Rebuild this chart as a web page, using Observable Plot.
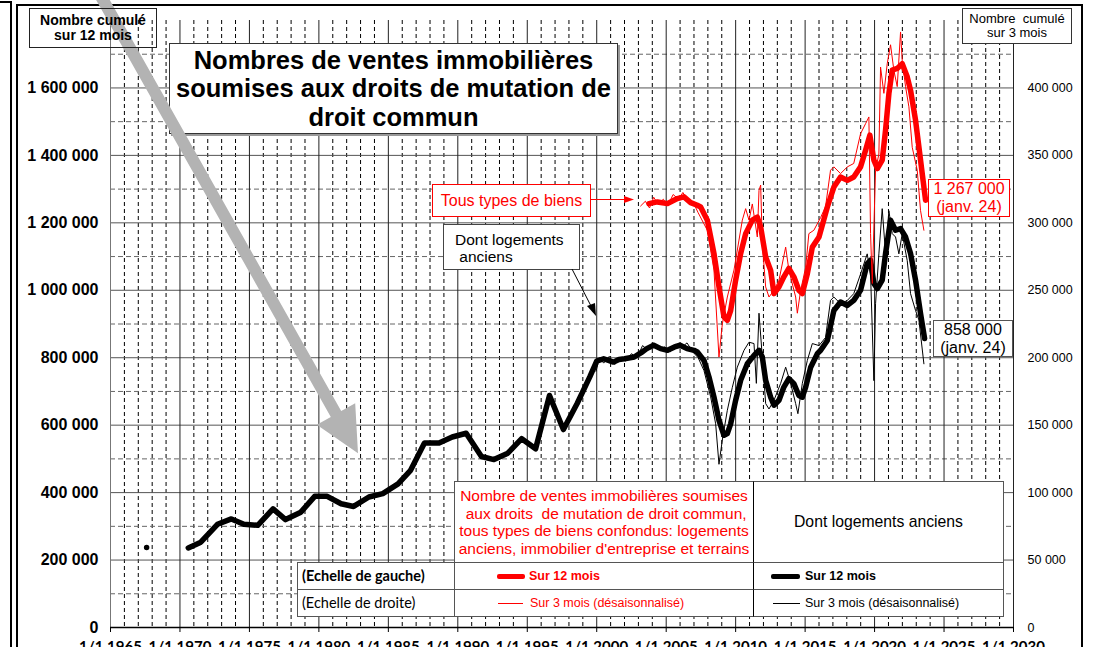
<!DOCTYPE html>
<html><head><meta charset="utf-8">
<script src="https://cdn.jsdelivr.net/npm/d3@7"></script>
<script src="https://cdn.jsdelivr.net/npm/@observablehq/plot@0.6"></script>
<style>
body{margin:0;background:#fff;}
#wrap{position:relative;width:1104px;height:647px;overflow:hidden;background:#fff;font-family:"Liberation Sans",Arial,sans-serif;}
#wrap svg.ov{position:absolute;left:0;top:0;pointer-events:none;}
.abs{position:absolute;box-sizing:border-box;}
.box{position:absolute;box-sizing:border-box;background:#fff;border:1px solid #333;}
.cell{position:absolute;box-sizing:border-box;background:#fff;border:1px solid #555;}
.center{display:flex;align-items:center;justify-content:center;text-align:center;}
.swatch{position:absolute;}
.ltxt{position:absolute;font-size:12.5px;white-space:nowrap;line-height:14px;}
</style></head><body><div id="wrap"></div>
<script>
// ---------- data ----------
// Dont logements anciens, nombre cumulé sur 12 mois (échelle de gauche)
const ancien12Years = [1967.6, 1969.0, 1970.6, 1971.5, 1972.7, 1973.7, 1974.6, 1975.6, 1976.7, 1977.6, 1978.7, 1979.7, 1980.6, 1981.6, 1982.5, 1983.6, 1984.6, 1985.7, 1986.6, 1987.6, 1988.65, 1989.6, 1990.6, 1991.7, 1992.6, 1993.6, 1994.6, 1995.6, 1996.6, 1997.6, 1998.6, 1999.5, 2000.0, 2000.5, 2001.2, 2001.6, 2002.0, 2002.7, 2003.2, 2003.6, 2004.1, 2004.6, 2005.1, 2005.6, 2006.0, 2006.5, 2007.0, 2007.24, 2007.72, 2008.08, 2008.44, 2008.8, 2009.16, 2009.4, 2009.64, 2010.0, 2010.36, 2010.84, 2011.32, 2011.68, 2011.92, 2012.16, 2012.52, 2012.76, 2013.12, 2013.47, 2013.83, 2014.19, 2014.55, 2014.8, 2015.04, 2015.4, 2015.88, 2016.12, 2016.6, 2017.07, 2017.55, 2018.04, 2018.5, 2018.99, 2019.47, 2019.71, 2019.95, 2020.2, 2020.55, 2020.79, 2021.15, 2021.51, 2021.87, 2022.23, 2022.59, 2022.95, 2023.31, 2023.6];
const ancien12Values = [237000, null, 236000, 253000, 306000, 322000, 306000, 303000, 352000, 320000, 342000, 389000, 389000, 367000, 359000, 387000, 397000, 426000, 466000, 547000, 547000, 565000, 576000, 507000, 498000, 517000, 560000, 530000, 688000, 587000, 665000, 743000, 790000, 797000, 787000, 795000, 797000, 802000, 815000, 827000, 837000, 827000, 822000, 832000, 837000, 827000, 822000, 817000, 792000, 743000, 683000, 614000, 570000, 575000, 604000, 674000, 733000, 782000, 807000, 822000, 802000, 733000, 683000, 659000, 674000, 713000, 738000, 723000, 688000, 683000, 713000, 772000, 812000, 822000, 851000, 940000, 965000, 955000, 970000, 1000000, 1079000, 1089000, 1020000, 1005000, 1030000, 1109000, 1208000, 1178000, 1183000, 1158000, 1109000, 1030000, 931000, 857000];

// Tous types de biens, nombre cumulé sur 12 mois (échelle de gauche)
const tous12Years = [2003.76, 2004.37, 2005.09, 2005.8, 2006.28, 2006.76, 2007.24, 2007.48, 2007.96, 2008.44, 2008.8, 2009.16, 2009.4, 2009.64, 2010.0, 2010.36, 2010.72, 2011.2, 2011.56, 2011.8, 2012.16, 2012.52, 2012.76, 2013.12, 2013.47, 2013.83, 2014.19, 2014.55, 2014.8, 2015.16, 2015.52, 2016.0, 2016.6, 2017.07, 2017.55, 2018.04, 2018.5, 2018.99, 2019.35, 2019.66, 2019.95, 2020.2, 2020.55, 2020.79, 2021.03, 2021.27, 2021.63, 2021.99, 2022.35, 2022.59, 2022.95, 2023.19, 2023.43, 2023.67];
const tous12Values = [1257000, 1262000, 1257000, 1272000, 1277000, 1260000, 1252000, 1247000, 1208000, 1109000, 1010000, 921000, 911000, 940000, 1030000, 1109000, 1168000, 1208000, 1217000, 1188000, 1099000, 1059000, 990000, 1010000, 1040000, 1065000, 1040000, 1000000, 990000, 1049000, 1128000, 1158000, 1247000, 1306000, 1336000, 1326000, 1336000, 1366000, 1415000, 1460000, 1386000, 1361000, 1386000, 1475000, 1583000, 1653000, 1658000, 1672000, 1633000, 1593000, 1504000, 1425000, 1346000, 1267000];

// Tous types de biens, sur 3 mois désaisonnalisé (échelle de droite)
const tous3Years = [2003.16, 2003.5, 2003.8, 2004.1, 2004.4, 2004.8, 2005.1, 2005.5, 2005.9, 2006.2, 2006.6, 2007.0, 2007.3, 2007.96, 2008.44, 2008.8, 2009.04, 2009.4, 2009.88, 2010.48, 2010.72, 2010.96, 2011.2, 2011.56, 2011.68, 2011.8, 2011.92, 2012.16, 2012.4, 2012.76, 2013.12, 2013.6, 2013.83, 2014.32, 2014.44, 2014.68, 2015.04, 2015.27, 2015.63, 2016.12, 2016.47, 2016.83, 2017.07, 2017.55, 2018.04, 2018.5, 2018.99, 2019.35, 2019.59, 2019.71, 2019.83, 2020.07, 2020.31, 2020.43, 2020.67, 2020.91, 2021.15, 2021.39, 2021.63, 2021.87, 2021.99, 2022.23, 2022.47, 2022.71, 2023.07, 2023.31, 2023.55];
const tous3Values = [312500, 316000, 311000, 319000, 314000, 317500, 312500, 321000, 317500, 322500, 316000, 314000, 307500, 294500, 265000, 200500, 225000, 245000, 265000, 302000, 310500, 302000, 314000, 289500, 324000, 328000, 284500, 252500, 245000, 250000, 257500, 282000, 265000, 245000, 233000, 250000, 267000, 292000, 294500, 304000, 312000, 339000, 341500, 336500, 341500, 344000, 366000, 373500, 378500, 292000, 255000, 339000, 351000, 415500, 396000, 418000, 432000, 413000, 401000, 441500, 420500, 401000, 386000, 356000, 339000, 309000, 294500];

// Dont logements anciens, sur 3 mois désaisonnalisé (échelle de droite)
const ancien3Years = [1999.95, 2000.2, 2000.5, 2000.9, 2001.3, 2001.7, 2002.1, 2002.5, 2002.9, 2003.3, 2003.7, 2004.1, 2004.5, 2004.9, 2005.3, 2005.7, 2006.1, 2006.5, 2006.9, 2007.3, 2007.72, 2008.2, 2008.56, 2008.8, 2009.04, 2009.4, 2009.76, 2010.12, 2010.6, 2010.96, 2011.32, 2011.49, 2011.68, 2011.92, 2012.16, 2012.4, 2012.76, 2013.24, 2013.6, 2013.96, 2014.32, 2014.48, 2014.8, 2015.16, 2015.52, 2016.0, 2016.47, 2016.83, 2017.07, 2017.55, 2018.04, 2018.5, 2018.99, 2019.47, 2019.71, 2019.95, 2020.07, 2020.31, 2020.55, 2020.79, 2021.03, 2021.27, 2021.51, 2021.75, 2021.99, 2022.35, 2022.59, 2022.95, 2023.19, 2023.55];
const ancien3Values = [190000, 200000, 196000, 201000, 195000, 200000, 197500, 203000, 200000, 209000, 205500, 211000, 206000, 208000, 204500, 210000, 207500, 211000, 204500, 200000, 190500, 171000, 151000, 121000, 139000, 161000, 178000, 193000, 205500, 211500, 210500, 181000, 233000, 200500, 166000, 162000, 168500, 181000, 193000, 181000, 166000, 158500, 181000, 198000, 210500, 209000, 215000, 242500, 245000, 240000, 242500, 247500, 262000, 277000, 262000, 183000, 240000, 277000, 310500, 277000, 309000, 292000, 289500, 277000, 292000, 272000, 247500, 235000, 228000, 195500];

// ticks
const xTicks = [1965, 1970, 1975, 1980, 1985, 1990, 1995, 2000, 2005, 2010, 2015, 2020, 2025, 2030];
const leftTicks = [0, 200000, 400000, 600000, 800000, 1000000, 1200000, 1400000, 1600000];
const rightTicks = [0, 50000, 100000, 150000, 200000, 250000, 300000, 350000, 400000];
const rightRatio = 4; // échelle de droite = échelle de gauche / 4

// ---------- build ----------
const rows = (xs, vs) => xs.map((x, i) => ({x, v: vs[i]}));
const ancien12 = rows(ancien12Years, ancien12Values);
const tous12 = rows(tous12Years, tous12Values);
const tous3 = rows(tous3Years, tous3Values);
const ancien3 = rows(ancien3Years, ancien3Values);

const loc = d3.formatLocale({decimal: ",", thousands: " ", grouping: [3], currency: ["", ""]});
const fmt = loc.format(",d");

const allYears = d3.range(1966, 2030);
const minorYears = allYears.filter(y => y % 5 !== 0);
const majorYears = d3.range(1970, 2031, 5);
const minorLevels = d3.range(100000, 1800000, 200000);
const majorLevels = d3.range(200000, 1700000, 200000);

const chart = Plot.plot({
  width: 1104, height: 647,
  marginLeft: 110, marginRight: 91, marginTop: 20, marginBottom: 20,
  style: {fontFamily: "'Liberation Sans', Arial, sans-serif", background: "transparent", color: "#000"},
  x: {domain: [1965, 2030], label: null},
  y: {domain: [0, 1800000], label: null},
  marks: [
    Plot.ruleX(minorYears, {stroke: "#000", strokeWidth: 1, strokeDasharray: "4,3"}),
    Plot.ruleY(minorLevels, {stroke: "#666", strokeWidth: 1, strokeDasharray: "5,3"}),
    Plot.ruleY(majorLevels, {stroke: "#555", strokeWidth: 1}),
    Plot.ruleX(majorYears, {stroke: "#222", strokeWidth: 1}),
    Plot.ruleX([1965], {stroke: "#777", strokeWidth: 1}),
    Plot.ruleY([0], {stroke: "#000", strokeWidth: 1.5}),
    Plot.line(tous12, {x: "x", y: "v", stroke: "#ff0000", strokeWidth: 5.5}),
    Plot.line(ancien12, {x: "x", y: "v", stroke: "#000", strokeWidth: 5.5}),
    Plot.dot(ancien12.slice(0, 1), {x: "x", y: "v", r: 1.6, fill: "#000", stroke: null}),
    Plot.line(tous3, {x: "x", y: d => d.v * rightRatio, stroke: "#ff0000", strokeWidth: 1}),
    Plot.line(ancien3, {x: "x", y: d => d.v * rightRatio, stroke: "#000", strokeWidth: 1}),
    Plot.axisY(leftTicks, {anchor: "left", tickSize: 0, tickPadding: 12, tickFormat: fmt,
      fontSize: 16, fontWeight: "bold", label: null}),
    Plot.axisY(rightTicks.map(v => v * rightRatio), {anchor: "right", tickSize: 0, tickPadding: 14,
      tickFormat: d => fmt(d / rightRatio), fontSize: 12.5, label: null}),
    Plot.axisX(xTicks, {anchor: "bottom", tickSize: 5, tickPadding: 9, tickFormat: d => "1/1 " + d,
      fontSize: 15, fontWeight: "bold", fontFamily: "Lato, 'Liberation Sans', sans-serif", label: null})
  ]
});
chart.style.position = "absolute";
chart.style.left = "0px";
chart.style.top = "0px";

const wrap = document.getElementById("wrap");
wrap.appendChild(chart);

function el(html){ const t = document.createElement("template"); t.innerHTML = html.trim(); const n = t.content.firstChild; wrap.appendChild(n); return n; }

// frames
el(`<div class="abs" style="left:-10px;top:1px;width:22px;height:700px;border-right:2px solid #000;border-top:2px solid #000;"></div>`);
el(`<div class="abs" style="left:16px;top:4px;width:1067px;height:700px;border:2px solid #000;"></div>`);

// title box
el(`<div class="box center" style="left:169px;top:43px;width:449px;height:91px;border:1.5px solid #333;box-shadow:2px 2px 0 #999;font-weight:bold;font-size:25.5px;line-height:28.5px;z-index:1;white-space:nowrap;">Nombres de ventes immobilières<br>soumises aux droits de mutation de<br>droit commun</div>`);
// background of the left axis title box (outside the plotting area)
el(`<div class="abs" style="left:29px;top:8px;width:81px;height:40px;background:#fff;z-index:1;"></div>`);

// gray arrow
el(`<svg class="ov" width="1104" height="647" style="z-index:2"><polygon points="96.9,-22.9 341.2,411.1 355.2,403.2 358,453.2 316.8,424.8 330.8,416.9 86.5,-17.1" fill="#b3b3b3"/></svg>`);

// axis titles
el(`<div class="abs center" style="left:29px;top:8px;width:128px;height:40px;border:1.5px solid #222;font-weight:bold;font-size:14px;line-height:15px;z-index:3;">Nombre cumulé<br>sur 12 mois</div>`);
el(`<div class="box center" style="left:962px;top:8px;width:110px;height:36px;font-size:13px;line-height:14.5px;z-index:3;">Nombre&nbsp; cumulé<br>sur 3 mois</div>`);

// annotations
el(`<div class="box center" style="left:432px;top:184px;width:159px;height:33px;border-color:#ff0000;color:#ff0000;font-size:16px;z-index:3;white-space:nowrap;">Tous types de biens</div>`);
el(`<div class="box" style="left:443px;top:224px;width:137px;height:46px;border-color:#444;font-size:15.5px;line-height:16.5px;padding:7px 0 0 11px;z-index:3;white-space:nowrap;">Dont logements<br>&nbsp;anciens</div>`);
el(`<div class="box center" style="left:928px;top:179px;width:82px;height:38px;border-color:#ff0000;color:#ff0000;font-size:16px;line-height:18px;z-index:3;">1 267 000<br>(janv. 24)</div>`);
el(`<div class="box center" style="left:933px;top:320px;width:80px;height:37px;border-color:#555;font-size:16px;line-height:18px;z-index:3;">858 000<br>(janv. 24)</div>`);
el(`<svg class="ov" width="1104" height="647" style="z-index:4">
  <line x1="591" y1="199.5" x2="625" y2="199.5" stroke="#ff0000" stroke-width="1.2"/>
  <polygon points="624,196 634,199.5 624,203" fill="#ff0000"/>
  <line x1="572" y1="269" x2="591" y2="306" stroke="#000" stroke-width="1"/>
  <polygon points="587,306 596,316 595,303" fill="#000"/>
</svg>`);

// legend table
el(`<div class="cell center" style="left:454px;top:481px;width:300px;height:82px;color:#ff0000;font-size:15.5px;line-height:17.5px;z-index:3;white-space:nowrap;">Nombre de ventes immobilières soumises<br>&nbsp;aux droits &nbsp;de mutation de droit commun,<br>tous types de biens confondus: logements<br>anciens, immobilier d'entreprise et terrains</div>`);
el(`<div class="cell center" style="left:753px;top:481px;width:251px;height:82px;font-size:15.75px;z-index:3;border-left:1.5px solid #000;">Dont logements anciens</div>`);
el(`<div class="cell" style="left:297px;top:562px;width:158px;height:28px;z-index:3;font-family:Lato,sans-serif;font-weight:bold;font-size:14.5px;line-height:26px;padding-left:4px;white-space:nowrap;">(Echelle de gauche)</div>`);
el(`<div class="cell" style="left:297px;top:589px;width:158px;height:28px;z-index:3;font-family:Lato,sans-serif;font-size:14.5px;line-height:26px;padding-left:4px;white-space:nowrap;">(Echelle de droite)</div>`);
el(`<div class="cell" style="left:454px;top:562px;width:300px;height:28px;z-index:3;"></div>`);
el(`<div class="cell" style="left:454px;top:589px;width:300px;height:28px;z-index:3;"></div>`);
el(`<div class="cell" style="left:753px;top:562px;width:251px;height:28px;z-index:3;border-left:1.5px solid #000;"></div>`);
el(`<div class="cell" style="left:753px;top:589px;width:251px;height:28px;z-index:3;border-left:1.5px solid #000;"></div>`);
// legend swatches and labels
el(`<div class="swatch" style="left:497px;top:573.5px;width:28px;height:5px;background:#ff0000;border-radius:2px;z-index:4;"></div>`);
el(`<div class="ltxt" style="left:529px;top:569px;color:#ff0000;font-weight:bold;z-index:4;">Sur 12 mois</div>`);
el(`<div class="swatch" style="left:498px;top:603px;width:25px;height:1px;background:#ff0000;z-index:4;"></div>`);
el(`<div class="ltxt" style="left:530px;top:596px;color:#ff0000;z-index:4;">Sur 3 mois (désaisonnalisé)</div>`);
el(`<div class="swatch" style="left:771px;top:573.5px;width:29px;height:5px;background:#000;border-radius:2px;z-index:4;"></div>`);
el(`<div class="ltxt" style="left:805px;top:569px;font-weight:bold;z-index:4;">Sur 12 mois</div>`);
el(`<div class="swatch" style="left:773px;top:603px;width:27px;height:1px;background:#000;z-index:4;"></div>`);
el(`<div class="ltxt" style="left:805px;top:596px;z-index:4;">Sur 3 mois (désaisonnalisé)</div>`);
</script>
</body></html>
